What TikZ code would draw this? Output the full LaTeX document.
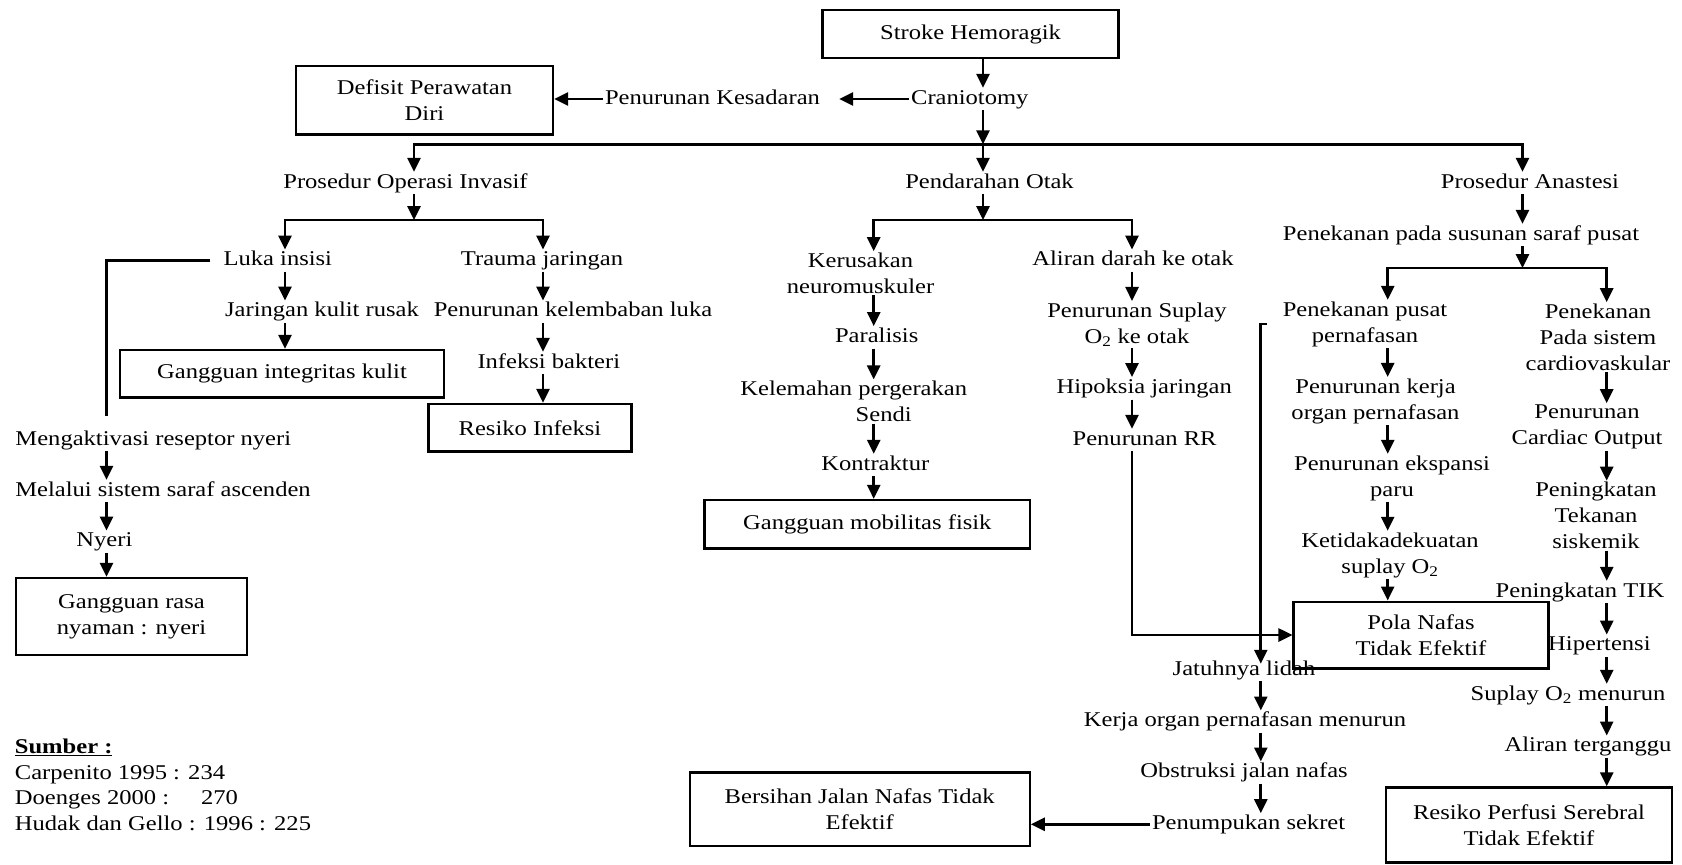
\documentclass[tikz,border=0pt]{standalone}
\usepackage{fontspec}
\setmainfont{Liberation Serif}[FakeStretch=1.17]
\usetikzlibrary{arrows.meta,calc}
\begin{document}
\begin{tikzpicture}[x=1pt,y=-1pt,
 every node/.style={font=\fontsize{21}{26}\selectfont},
 t/.style={inner xsep=2pt, inner ysep=1.5pt, text height=14.5pt, text depth=4.5pt},
 tt/.style={inner xsep=2pt, inner ysep=1.5pt, align=center},
 box/.style={draw, line width=2.4pt, align=center, inner sep=0pt},
 ln/.style={line width=2.7pt},
 arr/.style={line width=2.7pt, -{Triangle[length=14pt,width=13pt]}},
]
\useasboundingbox (0,0) rectangle (1682,865);

% columns and bus points
\coordinate (b1) at (983,144.3);
\coordinate (b2) at (414,220);
\coordinate (b3) at (983,220);
\coordinate (b4) at (1522.5,268);
\coordinate (xL) at (285,0);
\coordinate (xT) at (543,0);
\coordinate (xN) at (106.5,0);
\coordinate (xK) at (873.7,0);
\coordinate (xA) at (1132,0);
\coordinate (xP) at (1387.7,0);
\coordinate (xC) at (1606.7,0);
\coordinate (xJ) at (1260.8,0);
\coordinate (xPA) at (1522.5,0);
\coordinate (xPO) at (414,0);

% top
\node[box, minimum width=296pt, minimum height=48pt] (stroke) at (970.6,34.2) {Stroke Hemoragik};
\node[t] (cran) at (969.8,99) {Craniotomy};
\node[t] (pk) at (712.5,99) {Penurunan Kesadaran};
\node[box, minimum width=257pt, minimum height=68.6pt] (defisit) at (424.5,100) {Defisit Perawatan\\Diri};
\node[t] (poi) at (405.5,183) {Prosedur Operasi Invasif};
\node[t] (po) at (989.5,183) {Pendarahan Otak};
\node[t] (pa) at (1530,183) {Prosedur Anastesi};

% left
\node[t] (luka) at (277.8,260.7) {Luka insisi};
\node[t] (jks) at (322,311.7) {Jaringan kulit rusak};
\node[box, minimum width=324pt, minimum height=47.3pt] (gik) at (282,373.7) {Gangguan integritas kulit};
\node[t] (trauma) at (542,260.7) {Trauma jaringan};
\node[t] (pkl) at (573,311.7) {Penurunan kelembaban luka};
\node[t] (ib) at (548.8,363) {Infeksi bakteri};
\node[box, minimum width=203pt, minimum height=47.7pt] (ri) at (530,427.8) {Resiko Infeksi};
\node[t] (meng) at (153.3,440) {Mengaktivasi reseptor nyeri};
\node[t] (mel) at (163,491) {Melalui sistem saraf ascenden};
\node[t] (nyeri) at (104.4,541.7) {Nyeri};
\node[box, minimum width=231pt, minimum height=77pt] (grn) at (131.5,616.5) {Gangguan rasa\\nyaman : nyeri};

% middle
\node[tt] (kn) at (860.5,273.3) {Kerusakan\\neuromuskuler};
\node[t] (par) at (876.7,337.3) {Paralisis};
\node[tt] (kel) at (853.7,401.5) {Kelemahan pergerakan\\\hspace*{60pt}Sendi};
\node[t] (kon) at (875.3,465) {Kontraktur};
\node[box, minimum width=325.5pt, minimum height=48.3pt] (gmf) at (867.3,524.2) {Gangguan mobilitas fisik};
\node[t] (aliran) at (1133,260.7) {Aliran darah ke otak};
\node[tt] (pso) at (1137,324.5) {Penurunan Suplay\\O\textsubscript{2} ke otak};
\node[t] (hip) at (1144.2,388.3) {Hipoksia jaringan};
\node[t] (rr) at (1144.6,440) {Penurunan RR};

% right
\node[t] (ppss) at (1461,235) {Penekanan pada susunan saraf pusat};
\node[tt] (pp) at (1365,324) {Penekanan pusat\\pernafasan};
\node[tt] (pko) at (1375.5,401.2) {Penurunan kerja\\organ pernafasan};
\node[tt] (pep) at (1392,478) {Penurunan ekspansi\\paru};
\node[tt] (kso) at (1390,555) {Ketidakadekuatan\\suplay O\textsubscript{2}};
\node[box, minimum width=254.7pt, minimum height=66.6pt] (pola) at (1421,635) {Pola Nafas\\Tidak Efektif};
\node[tt] (pc) at (1598,337.3) {Penekanan\\Pada sistem\\cardiovaskular};
\node[tt] (pco) at (1587,427) {Penurunan\\Cardiac Output};
\node[tt] (ptk) at (1596,515.8) {Peningkatan\\Tekanan\\siskemik};
\node[t] (tik) at (1580,592) {Peningkatan TIK};
\node[t] (hiper) at (1599.4,645.8) {Hipertensi};
\node[t] (suo) at (1568,695) {Suplay O\textsubscript{2} menurun};
\node[t] (alt) at (1588,746.7) {Aliran terganggu};
\node[box, minimum width=286pt, minimum height=75pt] (rps) at (1529,825) {Resiko Perfusi Serebral\\Tidak Efektif};

% bottom
\node[t] (jl) at (1244,670) {Jatuhnya lidah};
\node[t] (kopm) at (1245,721.7) {Kerja organ pernafasan menurun};
\node[t] (ojn) at (1244,772.7) {Obstruksi jalan nafas};
\node[t] (ps) at (1248.6,824.3) {Penumpukan sekret};
\node[box, minimum width=340pt, minimum height=73.7pt] (bjn) at (859.7,809.2) {Bersihan Jalan Nafas Tidak\\Efektif};

% sources
\node[anchor=west, align=left, inner sep=0pt, font=\fontsize{21}{25.5}\selectfont] (src) at (14.7,785) {\underline{\textbf{Sumber :}}\\Carpenito 1995 : 234\\Doenges 2000 :\hspace{32pt}270\\Hudak dan Gello : 1996 : 225};

% connectors: top
\draw[arr] (stroke.south -| b1) -- (cran.north -| b1);
\draw[arr, shorten >=17pt] (cran.west) -- (pk.east);
\draw[arr] (pk.west) -- (pk.west -| defisit.east);
\draw[arr] (cran.south -| b1) -- (b1);
\draw[arr] (b1) -| (poi.north -| xPO);
\draw[arr] (b1) -- (po.north -| b1);
\draw[arr] (b1) -| (pa.north -| xPA);
\draw[arr] (poi.south -| b2) -- (b2);
\draw[arr] (b2) -| (luka.north -| xL);
\draw[arr] (b2) -| (trauma.north -| xT);
\draw[arr] (po.south -| b3) -- (b3);
\draw[arr] (b3) -| (kn.north -| xK);
\draw[arr] (b3) -| (aliran.north -| xA);
\draw[arr] (pa.south -| xPA) -- (ppss.north -| xPA);
\draw[arr] (ppss.south -| b4) -- (b4);
\draw[arr] (b4) -| (pp.north -| xP);
\draw[arr] (b4) -| (pc.north -| xC);

% left
\draw[arr] (luka.south -| xL) -- (jks.north -| xL);
\draw[arr] (jks.south -| xL) -- (gik.north -| xL);
\draw[arr] (trauma.south -| xT) -- (pkl.north -| xT);
\draw[arr] (pkl.south -| xT) -- (ib.north -| xT);
\draw[arr] (ib.south -| xT) -- (ri.north -| xT);
\draw[ln, shorten <=11pt, shorten >=13pt] (luka.west) -| (meng.north -| xN);
\draw[arr] (meng.south -| xN) -- (mel.north -| xN);
\draw[arr] (mel.south -| xN) -- (nyeri.north -| xN);
\draw[arr] (nyeri.south -| xN) -- (grn.north -| xN);

% middle
\draw[arr] (kn.south -| xK) -- (par.north -| xK);
\draw[arr] (par.south -| xK) -- (kel.north -| xK);
\draw[arr] (kel.south -| xK) -- (kon.north -| xK);
\draw[arr] (kon.south -| xK) -- (gmf.north -| xK);
\draw[arr] (aliran.south -| xA) -- (pso.north -| xA);
\draw[arr] (pso.south -| xA) -- (hip.north -| xA);
\draw[arr] (hip.south -| xA) -- (rr.north -| xA);
\draw[arr] (rr.south -| xA) |- (pola.west);

% right
\draw[arr] (pp.south -| xP) -- (pko.north -| xP);
\draw[arr] (pko.south -| xP) -- (pep.north -| xP);
\draw[arr] (pep.south -| xP) -- (kso.north -| xP);
\draw[arr] (kso.south -| xP) -- (pola.north -| xP);
\draw[arr] (pc.south -| xC) -- (pco.north -| xC);
\draw[arr] (pco.south -| xC) -- (ptk.north -| xC);
\draw[arr] (ptk.south -| xC) -- (tik.north -| xC);
\draw[arr] (tik.south -| xC) -- (hiper.north -| xC);
\draw[arr] (hiper.south -| xC) -- (suo.north -| xC);
\draw[arr] (suo.south -| xC) -- (alt.north -| xC);
\draw[arr] (alt.south -| xC) -- (rps.north -| xC);

% bottom
\draw[arr, shorten <=14pt, shorten >=-5pt] (pp.west) -| (jl.north -| xJ);
\draw[arr] (jl.south -| xJ) -- (kopm.north -| xJ);
\draw[arr] (kopm.south -| xJ) -- (ojn.north -| xJ);
\draw[arr] (ojn.south -| xJ) -- (ps.north -| xJ);
\draw[arr] (ps.west) -- (ps.west -| bjn.east);
\end{tikzpicture}
\end{document}
